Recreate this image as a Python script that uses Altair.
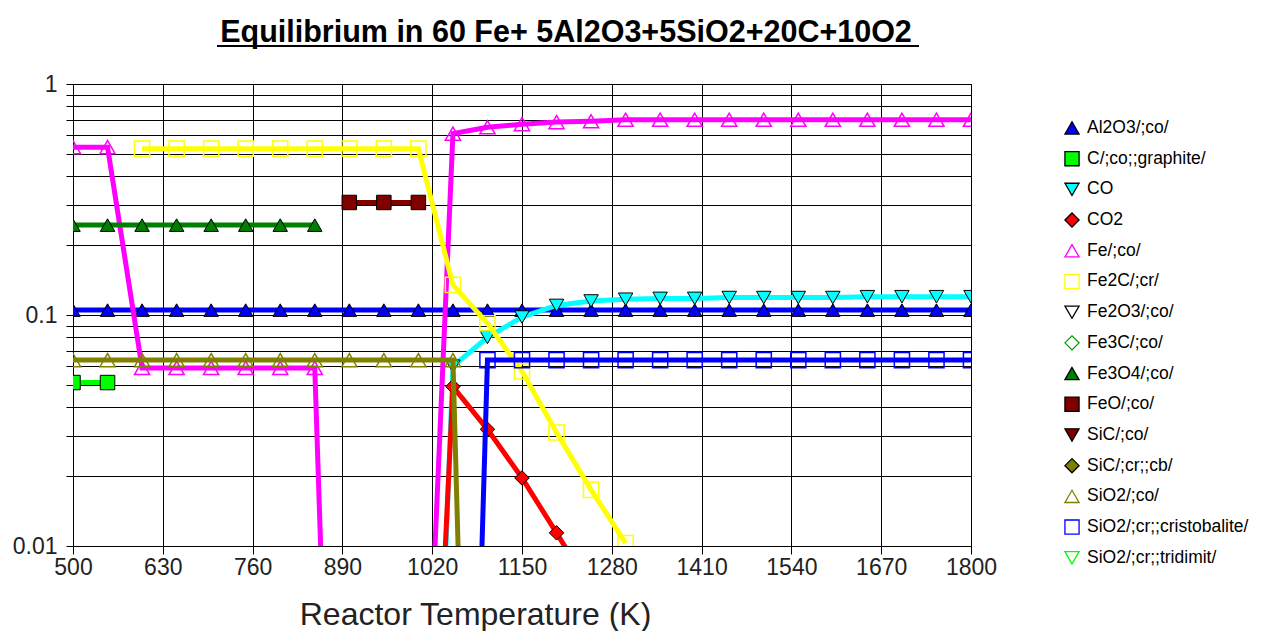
import altair as alt
import pandas as pd

# ---------------- data ----------------
TEMPS = [500, 550, 600, 650, 700, 750, 800, 850, 900, 950, 1000, 1050, 1100, 1150,
         1200, 1250, 1300, 1350, 1400, 1450, 1500, 1550, 1600, 1650, 1700, 1750, 1800]

N = None
AL2O3 = [0.105, 0.105, 0.105, 0.105, 0.105, 0.105, 0.105, 0.105, 0.105, 0.105, 0.105, 0.105, 0.105, 0.105,
         0.105, 0.105, 0.105, 0.105, 0.105, 0.105, 0.105, 0.105, 0.105, 0.105, 0.105, 0.105, 0.105]
C_GRAPHITE = [0.051, 0.051, N, N, N, N, N, N, N, N, N, N, N, N,
              N, N, N, N, N, N, N, N, N, N, N, N, N]
CO = [N, N, N, N, N, N, N, N, N, N, 8e-6, 0.060, 0.080, 0.098,
      0.110, 0.115, 0.117, 0.118, 0.118, 0.119, 0.119, 0.119, 0.119, 0.120, 0.120, 0.120, 0.120]
CO2 = [N, N, N, N, N, N, N, N, N, N, 3.5e-5, 0.049, 0.032, 0.0197,
       0.0114, 0.0065, 0.004, 0.0025, N, N, N, N, N, N, N, N, N]
FE = [0.533, 0.533, 0.059, 0.059, 0.059, 0.059, 0.059, 0.059, 1.7e-6, 1e-7, 2.2e-4, 0.61, 0.65, 0.67,
      0.684, 0.69, 0.70, 0.70, 0.70, 0.70, 0.70, 0.70, 0.70, 0.70, 0.70, 0.70, 0.70]
FE2C = [N, N, 0.525, 0.525, 0.525, 0.525, 0.525, 0.525, 0.525, 0.525, 0.525, 0.135, 0.092, 0.057,
        0.031, 0.0175, 0.0103, N, N, N, N, N, N, N, N, N, N]
FE2O3 = [N] * 27
FE3C = [N] * 27
FE3O4 = [0.245, 0.245, 0.245, 0.245, 0.245, 0.245, 0.245, 0.245, N, N, N, N, N, N,
         N, N, N, N, N, N, N, N, N, N, N, N, N]
FEO = [N, N, N, N, N, N, N, N, 0.307, 0.307, 0.307, N, N, N,
       N, N, N, N, N, N, N, N, N, N, N, N, N]
SIC_CO = [N] * 27
SIC_CB = [N] * 27
SIO2_CO = [0.0638, 0.0638, 0.0638, 0.0638, 0.0638, 0.0638, 0.0638, 0.0638, 0.0638, 0.0638, 0.0638, 0.0638, 2.5e-7, N,
           N, N, N, N, N, N, N, N, N, N, N, N, N]
SIO2_CRIST = [N, N, N, N, N, N, N, N, N, N, N, 5.6e-7, 0.0638, 0.0638,
              0.0638, 0.0638, 0.0638, 0.0638, 0.0638, 0.0638, 0.0638, 0.0638, 0.0638, 0.0638, 0.0638, 0.0638, 0.0638]
SIO2_TRID = [N] * 27

SERIES = ["Al2O3/;co/", "C/;co;;graphite/", "CO", "CO2", "Fe/;co/", "Fe2C/;cr/", "Fe2O3/;co/",
          "Fe3C/;co/", "Fe3O4/;co/", "FeO/;co/", "SiC/;co/", "SiC/;cr;;cb/", "SiO2/;co/",
          "SiO2/;cr;;cristobalite/", "SiO2/;cr;;tridimit/"]
VALUES = [AL2O3, C_GRAPHITE, CO, CO2, FE, FE2C, FE2O3, FE3C, FE3O4, FEO, SIC_CO, SIC_CB,
          SIO2_CO, SIO2_CRIST, SIO2_TRID]

XTICKS = [500, 630, 760, 890, 1020, 1150, 1280, 1410, 1540, 1670, 1800]
YTICKS = [0.01, 0.02, 0.03, 0.04, 0.05, 0.06, 0.07, 0.08, 0.09,
          0.1, 0.2, 0.3, 0.4, 0.5, 0.6, 0.7, 0.8, 0.9, 1]

TITLE = "Equilibrium in 60 Fe+ 5Al2O3+5SiO2+20C+10O2"
XTITLE = "Reactor Temperature (K)"

# ---------------- styles ----------------
# name: (colour, shape, filled)
STYLE = {
    "Al2O3/;co/": ("#0000FF", "triangle-up", True),
    "C/;co;;graphite/": ("#00FF00", "square", True),
    "CO": ("#00FFFF", "triangle-down", True),
    "CO2": ("#FF0000", "diamond", True),
    "Fe/;co/": ("#FF00FF", "triangle-up", False),
    "Fe2C/;cr/": ("#FFFF00", "square", False),
    "Fe2O3/;co/": ("#000000", "triangle-down", False),
    "Fe3C/;co/": ("#00A000", "diamond", False),
    "Fe3O4/;co/": ("#008000", "triangle-up", True),
    "FeO/;co/": ("#800000", "square", True),
    "SiC/;co/": ("#800000", "triangle-down", True),
    "SiC/;cr;;cb/": ("#808000", "diamond", True),
    "SiO2/;co/": ("#808000", "triangle-up", False),
    "SiO2/;cr;;cristobalite/": ("#0000FF", "square", False),
    "SiO2/;cr;;tridimit/": ("#00FF00", "triangle-down", False),
}
FONT = "Liberation Sans"

rows = []
for name, vals in zip(SERIES, VALUES):
    for t, v in zip(TEMPS, vals):
        if v is not None:
            rows.append({"s": name, "T": t, "v": v})
df = pd.DataFrame(rows)

X = alt.X("T:Q", scale=alt.Scale(domain=[500, 1800], nice=False, zero=False),
          axis=alt.Axis(values=XTICKS, format="d", title=XTITLE, grid=True,
                        gridColor="black", gridOpacity=1, gridWidth=1,
                        domainColor="black", tickColor="black", tickSize=8,
                        labelFont=FONT, labelFontSize=23, labelColor="#222",
                        labelPadding=2, labelFlush=False, labelOverlap=False,
                        titleFont=FONT, titleFontSize=32, titleFontWeight="normal",
                        titleColor="#222", titleX=402, titleY=78,
                        titleAlign="center", titleBaseline="alphabetic"))
Y = alt.Y("v:Q", scale=alt.Scale(type="log", domain=[0.01, 1], nice=False),
          axis=alt.Axis(values=YTICKS, title=None, grid=True, gridColor="black",
                        gridOpacity=1, gridWidth=1, domainColor="black",
                        tickColor="black", tickSize=7, labelPadding=9,
                        labelFont=FONT, labelFontSize=23, labelColor="#222",
                        labelOverlap=False, labelBound=False,
                        labelExpr="datum.value == 1 ? '1' : (datum.value == 0.1 ? '0.1' : (datum.value == 0.01 ? '0.01' : ''))"))

layers = []
for name in SERIES:
    sub = df[df["s"] == name]
    if sub.empty:
        continue
    color, shape, filled = STYLE[name]
    base = alt.Chart(sub)
    layers.append(base.mark_line(color=color, strokeWidth=5, clip=True).encode(x=X, y=Y))
    if filled:
        pt = base.mark_point(shape=shape, filled=True, fill=color, stroke="black",
                             strokeWidth=1, size=210, opacity=1, clip=True)
    else:
        pt = base.mark_point(shape=shape, filled=False, stroke=color, strokeWidth=1.5,
                             size=230, opacity=1, clip=True)
    layers.append(pt.encode(x=X, y=Y))

main = alt.layer(*layers)

# ---------------- legend ----------------
leg = pd.DataFrame({
    "idx": list(range(len(SERIES))),
    "name": SERIES,
    "shape": [STYLE[n][1] for n in SERIES],
    "fill": [STYLE[n][0] if STYLE[n][2] else "transparent" for n in SERIES],
    "stroke": ["black" if STYLE[n][2] else STYLE[n][0] for n in SERIES],
})
LY = alt.Y("idx:Q", scale=alt.Scale(domain=[-1.433, 13.617], reverse=True, nice=False, zero=False),
           axis=None)
leg_pts = alt.Chart(leg).mark_point(size=200, opacity=1, strokeWidth=1.3, filled=True).encode(
    x=alt.value(999), y=LY,
    shape=alt.Shape("shape:N", scale=None),
    fill=alt.Fill("fill:N", scale=None),
    stroke=alt.Stroke("stroke:N", scale=None))
leg_txt = alt.Chart(leg).mark_text(align="left", baseline="middle", font=FONT,
                                   fontSize=17.5, color="black").encode(
    x=alt.value(1014), y=LY, text="name:N")
underline = alt.Chart(pd.DataFrame({"k": [0]})).mark_rule(color="black", strokeWidth=2).encode(
    x=alt.value(144), x2=alt.value(846), y=alt.value(-38))

legend = alt.layer(leg_pts, leg_txt, underline)

chart = alt.layer(main, legend).resolve_scale(y="independent").properties(
    width=898, height=462,
    title=alt.TitleParams(TITLE, font=FONT, fontSize=30.5, fontWeight="bold", color="black",
                          anchor="middle", frame="group", dx=44, offset=-27,
                          baseline="alphabetic"),
    autosize=alt.AutoSizeParams(type="none"),
    padding={"left": 65, "top": 76, "right": 282, "bottom": 85},
).configure_view(stroke="black", strokeWidth=1)

chart.save("out.html", embed_options={"renderer": "svg", "actions": False})
